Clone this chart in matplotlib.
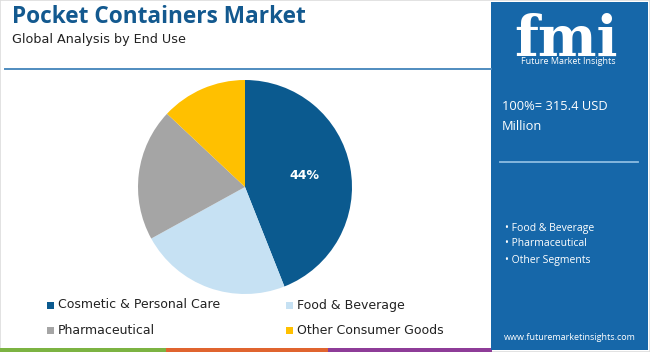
import matplotlib
matplotlib.use("Agg")
import matplotlib.pyplot as plt
from matplotlib.patches import Rectangle
from matplotlib.lines import Line2D

# data
segments = ["Cosmetic & Personal Care", "Food & Beverage", "Pharmaceutical", "Other Consumer Goods"]
shares = [44, 23, 20, 13]
colors = ["#0b5a8f", "#c6e1f3", "#a5a5a5", "#ffc000"]
panel_items = ["Food & Beverage", "Pharmaceutical", "Other Segments"]
total_text = "100%= 315.4 USD\nMillion"

W, H = 650, 352
fig = plt.figure(figsize=(6.5, 3.52), dpi=100)
fig.patch.set_facecolor("white")

def fx(px):
    return px / W

def fy(py):
    return 1 - py / H

# faint outer border
fig.add_artist(Rectangle((0, 0), 1, 1, transform=fig.transFigure, fill=False,
                         edgecolor="#dddddd", linewidth=1.2))

# title
fig.text(fx(12), fy(17), "Pocket Containers Market", fontsize=16.3, fontweight="bold",
         color="#13598f", family="Open Sans", va="center", ha="left")
fig.text(fx(12), fy(40), "Global Analysis by End Use", fontsize=9.2, color="#222222",
         family="DejaVu Sans", va="center", ha="left")

# header line
fig.add_artist(Line2D([fx(5), fx(491)], [fy(69), fy(69)], transform=fig.transFigure,
                      color="#4f8cbf", linewidth=1.4))

# pie
cx, cy, r = 245, 187, 107
ax = fig.add_axes([fx(cx - r), fy(cy + r), 2 * r / W, 2 * r / H])
wedges, texts, autotexts = ax.pie(
    shares, colors=colors, startangle=90, counterclock=False, radius=1,
    autopct=lambda p: "%d%%" % round(p) if p > 40 else "", pctdistance=0.57,
    wedgeprops=dict(linewidth=0))
for t in autotexts:
    t.set_color("white")
    t.set_fontweight("bold")
    t.set_fontsize(9)
ax.set_xlim(-1, 1)
ax.set_ylim(-1, 1)
ax.set_aspect("equal")
ax.axis("off")

# legend
leg_pos = [(47, 305), (286, 305), (47, 330), (286, 330)]
for (lx, ly), name, col in zip(leg_pos, segments, colors):
    fig.add_artist(Rectangle((fx(lx), fy(ly + 3.5)), 7 / W, 7 / H,
                             transform=fig.transFigure, color=col, linewidth=0))
    fig.text(fx(lx + 11), fy(ly), name, fontsize=9, color="#222222",
             family="DejaVu Sans", va="center", ha="left")

# bottom strip
for x0, x1, col in [(0, 166, "#7cb342"), (166, 328, "#e0642f"), (328, 492, "#8e3c98")]:
    fig.add_artist(Rectangle((fx(x0), 0), (x1 - x0) / W, 4 / H,
                             transform=fig.transFigure, color=col, linewidth=0))

# right panel
panel_col = "#1667a9"
fig.add_artist(Rectangle((fx(491), fy(350)), (648 - 491) / W, 348 / H,
                         transform=fig.transFigure, color=panel_col, linewidth=0))

# logo
fig.text(fx(566), fy(56), "fmi", fontsize=40, fontweight="bold", color="white",
         family="DejaVu Serif", ha="center", va="baseline")
for yy in range(17, 58, 4):
    fig.add_artist(Line2D([fx(505), fx(628)], [fy(yy), fy(yy)], transform=fig.transFigure,
                          color=panel_col, linewidth=0.9))
fig.text(fx(568), fy(62), "Future Market Insights", fontsize=6.5, color="white",
         family="Open Sans", ha="center", va="center")

fig.text(fx(502), fy(117), total_text, fontsize=9.3, color="white", family="Open Sans",
         ha="left", va="center", linespacing=1.7)

fig.add_artist(Line2D([fx(500), fx(638)], [fy(162), fy(162)], transform=fig.transFigure,
                      color="#8dbde2", linewidth=1.3))

for i, item in enumerate(panel_items):
    yy = [229, 243, 260][i]
    fig.text(fx(505), fy(yy), "\u2022 " + item, fontsize=7.5, color="white",
             family="Open Sans", ha="left", va="center")

fig.text(fx(570), fy(337), "www.futuremarketinsights.com", fontsize=6.5, color="white",
         family="Open Sans", ha="center", va="center")

fig.savefig("out.png", dpi=100)
